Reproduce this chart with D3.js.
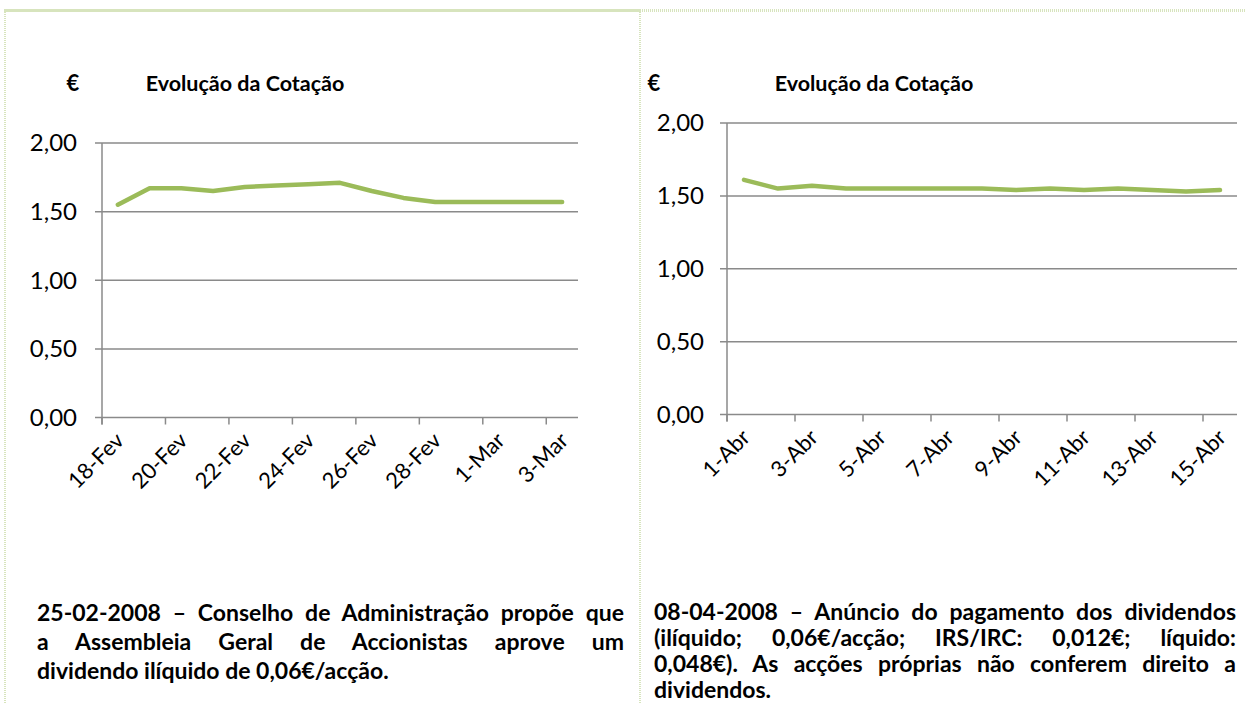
<!DOCTYPE html>
<html>
<head>
<meta charset="utf-8">
<script src="https://cdn.jsdelivr.net/npm/d3@7"></script>
<style>
  html, body { margin: 0; padding: 0; background: #fff; }
  #art { position: relative; width: 1246px; height: 704px; overflow: hidden; font-family: Lato, Carlito, Calibri, sans-serif; }
  .note { position: absolute; font-weight: bold; font-size: 23px; color: #000; }
  .note div { text-align: justify; text-align-last: justify; white-space: nowrap; }
  .note div.last { text-align-last: left; }
</style>
</head>
<body>
<div id="art"></div>
<script>
// Fevereiro / Março 2008
const febDates = ["18-Fev", "19-Fev", "20-Fev", "21-Fev", "22-Fev", "23-Fev", "24-Fev", "25-Fev",
  "26-Fev", "27-Fev", "28-Fev", "29-Fev", "1-Mar", "2-Mar", "3-Mar"];
const febPrices = [1.55, 1.67, 1.67, 1.65, 1.68, 1.69, 1.70, 1.71, 1.65, 1.60, 1.57, 1.57, 1.57, 1.57, 1.57];

// Abril 2008
const aprDates = ["1-Abr", "2-Abr", "3-Abr", "4-Abr", "5-Abr", "6-Abr", "7-Abr", "8-Abr",
  "9-Abr", "10-Abr", "11-Abr", "12-Abr", "13-Abr", "14-Abr", "15-Abr"];
const aprPrices = [1.61, 1.55, 1.57, 1.55, 1.55, 1.55, 1.55, 1.55, 1.54, 1.55, 1.54, 1.55, 1.54, 1.53, 1.54];

const yTicks = [0, 0.5, 1, 1.5, 2];

const chartTitle = "Evolução da Cotação";
const unitLabel = "€";

const febNote = [
  "25-02-2008 – Conselho de Administração propõe que",
  "a Assembleia Geral de Accionistas aprove um",
  "dividendo ilíquido de 0,06€/acção."
];
const aprNote = [
  "08-04-2008 – Anúncio do pagamento dos dividendos",
  "(ilíquido; 0,06€/acção; IRS/IRC: 0,012€; líquido:",
  "0,048€). As acções próprias não conferem direito a",
  "dividendos."
];

const style = {
  line: "#9bbb59",
  grid: "#8a8a8a",
  border: "#d7e4bd",
  font: "Lato, Carlito, Calibri, sans-serif"
};

const ptBR = d3.formatLocale({ decimal: ",", thousands: ".", grouping: [3], currency: ["", " €"] });
const fmt = ptBR.format(".2f");

const container = d3.select("#art");

const svg = container.append("svg")
  .attr("width", 1246)
  .attr("height", 704)
  .style("position", "absolute")
  .style("left", 0)
  .style("top", 0);

// panel borders
svg.append("line")
  .attr("x1", 4).attr("x2", 640).attr("y1", 10.5).attr("y2", 10.5)
  .attr("stroke", style.border).attr("stroke-width", 3);
svg.append("line")
  .attr("x1", 5).attr("x2", 5).attr("y1", 10).attr("y2", 704)
  .attr("stroke", style.border).attr("stroke-width", 2).attr("stroke-dasharray", "1,1");
svg.append("line")
  .attr("x1", 640).attr("x2", 640).attr("y1", 10).attr("y2", 704)
  .attr("stroke", style.border).attr("stroke-width", 2).attr("stroke-dasharray", "1,1");
svg.append("line")
  .attr("x1", 640).attr("x2", 1246).attr("y1", 10.5).attr("y2", 10.5)
  .attr("stroke", style.border).attr("stroke-width", 3).attr("stroke-dasharray", "1,1");

function drawChart(opts) {
  const { dates, prices, left, right, top, bottom, titleX, euroX, labelEnd } = opts;

  const x = d3.scaleBand().domain(dates).range([left, right]).padding(0);
  const y = d3.scaleLinear().domain([0, 2]).range([bottom, top]);

  const g = svg.append("g");

  // gridlines + tick stubs
  g.selectAll(".grid")
    .data(yTicks)
    .enter()
    .append("line")
    .attr("x1", left - 7)
    .attr("x2", right)
    .attr("y1", d => y(d))
    .attr("y2", d => y(d))
    .attr("stroke", style.grid)
    .attr("stroke-width", 1.5);

  // y axis line
  g.append("line")
    .attr("x1", left).attr("x2", left)
    .attr("y1", top).attr("y2", bottom + 7)
    .attr("stroke", style.grid)
    .attr("stroke-width", 1.5);

  // y tick labels
  g.selectAll(".ylab")
    .data(yTicks)
    .enter()
    .append("text")
    .attr("x", labelEnd)
    .attr("y", d => y(d))
    .attr("dy", "0.35em")
    .attr("text-anchor", "end")
    .style("font-family", style.font)
    .style("font-size", "24px")
    .attr("fill", "#000")
    .text(d => fmt(d));

  // x ticks every 2 days
  const shown = dates.filter((d, i) => i % 2 === 0);
  g.selectAll(".xtick")
    .data(shown)
    .enter()
    .append("line")
    .attr("x1", d => x(d))
    .attr("x2", d => x(d))
    .attr("y1", bottom)
    .attr("y2", bottom + 7)
    .attr("stroke", style.grid)
    .attr("stroke-width", 1.5);

  g.selectAll(".xlab")
    .data(shown)
    .enter()
    .append("text")
    .attr("transform", d => `translate(${x(d) + x.bandwidth() / 2 + 2},${bottom + 19}) rotate(-45)`)
    .attr("text-anchor", "end")
    .attr("dy", "0.35em")
    .style("font-family", style.font)
    .style("font-size", "22px")
    .attr("fill", "#000")
    .text(d => d);

  // price line
  const line = d3.line()
    .x((d, i) => x(dates[i]) + x.bandwidth() / 2)
    .y(d => y(d));

  g.append("path")
    .datum(prices)
    .attr("d", line)
    .attr("fill", "none")
    .attr("stroke", style.line)
    .attr("stroke-width", 4.5)
    .attr("stroke-linecap", "round")
    .attr("stroke-linejoin", "round");

  // titles
  g.append("text")
    .attr("x", euroX)
    .attr("y", 83)
    .attr("dy", "0.35em")
    .attr("text-anchor", "middle")
    .style("font-family", style.font)
    .style("font-weight", "bold")
    .style("font-size", "22px")
    .text(unitLabel);

  g.append("text")
    .attr("x", titleX)
    .attr("y", 83)
    .attr("dy", "0.35em")
    .attr("text-anchor", "middle")
    .style("font-family", style.font)
    .style("font-weight", "bold")
    .style("font-size", "21.5px")
    .text(chartTitle);
}

drawChart({
  dates: febDates, prices: febPrices,
  left: 102, right: 578, top: 143, bottom: 417.5,
  titleX: 245, euroX: 73, labelEnd: 77
});

drawChart({
  dates: aprDates, prices: aprPrices,
  left: 727, right: 1237, top: 123, bottom: 414.5,
  titleX: 874, euroX: 654, labelEnd: 704
});

function addNote(lines, left, width, firstCenter, lineHeight) {
  const box = container.append("div")
    .attr("class", "note")
    .style("left", left + "px")
    .style("top", (firstCenter - lineHeight / 2) + "px")
    .style("width", width + "px")
    .style("line-height", lineHeight + "px");
  box.selectAll("div")
    .data(lines)
    .enter()
    .append("div")
    .attr("class", (d, i) => i === lines.length - 1 ? "last" : null)
    .text(d => d);
}

addNote(febNote, 37, 587, 612, 29);
addNote(aprNote, 654, 582, 611, 26);
</script>
</body>
</html>
